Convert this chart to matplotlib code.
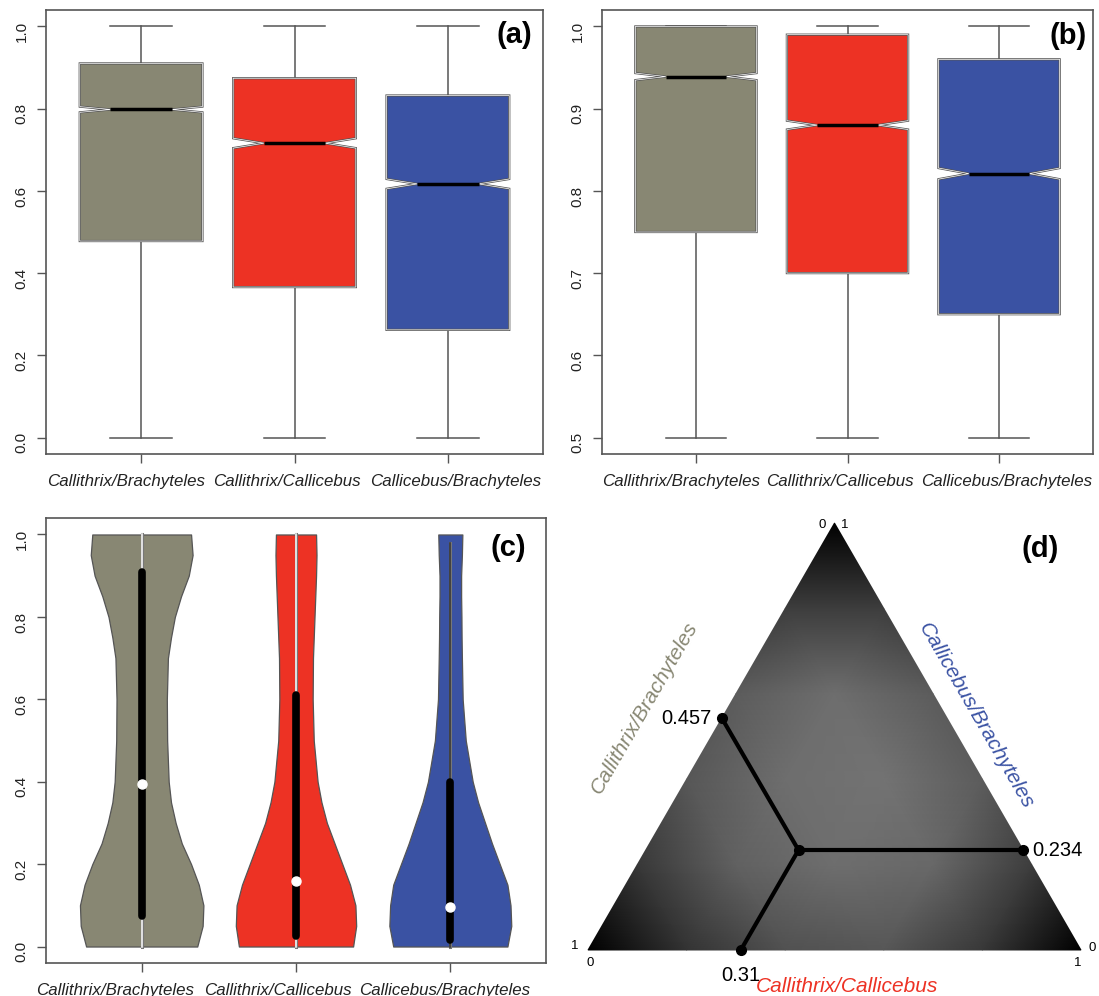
import matplotlib
matplotlib.use("Agg")
import matplotlib.pyplot as plt
import matplotlib.patches as mpatches
import matplotlib.tri as mtri
import numpy as np

plt.rcParams['font.family'] = ['Liberation Sans', 'DejaVu Sans']

# ---- data ----
pairs = ['Callithrix/Brachyteles', 'Callithrix/Callicebus', 'Callicebus/Brachyteles']
pair_colors = ['#888773', '#ED3224', '#3A52A3']

# (a) notched boxes
a_lo = [0.0, 0.0, 0.0]
a_q1 = [0.478, 0.366, 0.262]
a_med = [0.798, 0.716, 0.617]
a_q3 = [0.910, 0.874, 0.832]
a_hi = [1.0, 1.0, 1.0]
a_notch = [0.007, 0.012, 0.012]

# (b) notched boxes
b_lo = [0.5, 0.5, 0.5]
b_q1 = [0.75, 0.70, 0.65]
b_med = [0.939, 0.880, 0.821]
b_q3 = [1.0, 0.99, 0.96]
b_hi = [1.0, 1.0, 1.0]
b_notch = [0.0043, 0.0054, 0.0068]

# (c) violins: half widths at these levels
violin_y = [0.0, 0.05, 0.1, 0.15, 0.2, 0.25, 0.3, 0.35, 0.4, 0.5,
            0.6, 0.7, 0.75, 0.8, 0.85, 0.9, 0.95, 1.0]
violin_gray = [0.36, 0.395, 0.40, 0.37, 0.32, 0.26, 0.22, 0.19, 0.175, 0.165,
               0.163, 0.17, 0.19, 0.215, 0.255, 0.305, 0.33, 0.32]
violin_red = [0.37, 0.39, 0.385, 0.35, 0.30, 0.25, 0.20, 0.165, 0.14, 0.115,
              0.108, 0.11, 0.115, 0.12, 0.125, 0.13, 0.133, 0.13]
violin_blue = [0.37, 0.395, 0.39, 0.37, 0.32, 0.27, 0.225, 0.18, 0.145, 0.10,
               0.08, 0.075, 0.073, 0.072, 0.07, 0.07, 0.075, 0.078]
c_q1 = [0.075, 0.025, 0.015]
c_med = [0.395, 0.16, 0.095]
c_q3 = [0.91, 0.61, 0.40]
c_lo = [0.0, 0.0, 0.0]
c_hi = [1.0, 1.0, 0.98]

# where the category names sit under each panel (x in category units)
label_x_ab = [0.90, 1.95, 3.05]
label_x_c = [0.83, 1.88, 2.96]

# (d) ternary: mean position and point density (ink share) on a 0.2 lattice,
# rows go up from the base (top-vertex weight 0, 0.2, ... 1)
tern_point = [0.457, 0.31, 0.234]
tern_step = 0.2
tern_ink = [
    [1.00, 0.80, 0.68, 0.66, 0.78, 1.00],
    [0.78, 0.62, 0.57, 0.59, 0.76],
    [0.66, 0.57, 0.55, 0.64],
    [0.64, 0.57, 0.64],
    [0.76, 0.76],
    [1.00],
]

W, H = 1099, 996
fig = plt.figure(figsize=(W / 100, H / 100), dpi=100)


def fpos(x0, y0, x1, y1):
    return [x0 / W, 1 - y1 / H, (x1 - x0) / W, (y1 - y0) / H]


def style_axes(ax, yticks, ylim, label_x):
    ax.set_xlim(0.38, 3.62)
    ax.set_ylim(*ylim)
    for s in ax.spines.values():
        s.set_color('#555555')
        s.set_linewidth(1.2)
    ax.set_yticks(yticks, ['%.1f' % v for v in yticks])
    ax.tick_params(axis='y', length=6.5, width=1, color='#555555', labelsize=11,
                   labelcolor='#222222', pad=6, labelrotation=90)
    ax.tick_params(axis='x', length=6.5, width=1, color='#555555')
    ax.set_xticks([1, 2, 3], ['', '', ''])
    trans = ax.get_xaxis_transform()
    for lx, name in zip(label_x, pairs):
        ax.text(lx, -0.062, name, transform=trans, ha='center', va='center',
                fontstyle='italic', fontsize=12.2, color='#222222', clip_on=False)


def notched(ax, lo, q1, med, q3, hi, notch):
    stats = []
    for i in range(3):
        stats.append(dict(whislo=lo[i], q1=q1[i], med=med[i], q3=q3[i], whishi=hi[i],
                          cilo=med[i] - notch[i], cihi=med[i] + notch[i], fliers=[]))
    bp = ax.bxp(stats, positions=[1, 2, 3], widths=0.8, shownotches=True,
                patch_artist=True, showfliers=False,
                boxprops=dict(edgecolor='#555555', linewidth=1.6),
                medianprops=dict(color='black', linewidth=2.5),
                whiskerprops=dict(color='#555555', linewidth=1.1),
                capprops=dict(color='#555555', linewidth=1.1))
    for box, col in zip(bp['boxes'], pair_colors):
        box.set_facecolor(col)
        ax.add_patch(mpatches.PathPatch(box.get_path(), fill=False, edgecolor='white',
                                        linewidth=0.5, zorder=box.get_zorder() + 0.1))
    for m in bp['medians']:
        m.set_zorder(5)


# (a)
ax_a = fig.add_axes(fpos(46, 10, 543, 454))
notched(ax_a, a_lo, a_q1, a_med, a_q3, a_hi, a_notch)
style_axes(ax_a, [0.0, 0.2, 0.4, 0.6, 0.8, 1.0], (-0.04, 1.04), label_x_ab)

# (b)
ax_b = fig.add_axes(fpos(602, 10, 1093, 454))
notched(ax_b, b_lo, b_q1, b_med, b_q3, b_hi, b_notch)
style_axes(ax_b, [0.5, 0.6, 0.7, 0.8, 0.9, 1.0], (0.48, 1.02), label_x_ab)

# (c)
ax_c = fig.add_axes(fpos(46, 518, 546, 963))
vy = np.array(violin_y)
for i, (hw, col) in enumerate(zip([violin_gray, violin_red, violin_blue], pair_colors)):
    pos = i + 1
    hw = np.array(hw)
    ax_c.fill_betweenx(vy, pos - hw, pos + hw, facecolor=col, edgecolor='#555555',
                       linewidth=0.9, zorder=2)
    line_col = '#333333' if i == 2 else 'white'
    ax_c.plot([pos, pos], [c_lo[i], c_hi[i]], color='#777777', lw=2.2, zorder=3)
    ax_c.plot([pos, pos], [c_lo[i], c_hi[i]], color=line_col, lw=1.1, zorder=3)
    ax_c.plot([pos, pos], [c_q1[i], c_q3[i]], color='black', lw=5.5, zorder=4,
              solid_capstyle='round')
    ax_c.plot(pos, c_med[i], 'o', color='white', markersize=6.5, zorder=5)
style_axes(ax_c, [0.0, 0.2, 0.4, 0.6, 0.8, 1.0], (-0.04, 1.04), label_x_c)

# (d) ternary
ax_d = fig.add_axes([560 / W, 0, 539 / W, 491 / H])
ax_d.set_xlim(-0.0568, 1.0365)
ax_d.set_ylim(-0.0933, 0.9026)
ax_d.axis('off')
r3 = np.sqrt(3) / 2
tx, ty, tz = [], [], []
for row, vals in enumerate(tern_ink):
    c = row * tern_step
    for k, v in enumerate(vals):
        b = k * tern_step
        tx.append(b + c / 2)
        ty.append(c * r3)
        tz.append(v)
tri = mtri.Triangulation(tx, ty)
ax_d.tripcolor(tri, tz, shading='gouraud', cmap='gray_r', vmin=0, vmax=1, zorder=1)

A, B, C = tern_point
px, py = B + C / 2, C * r3
ends = [((1 - A) / 2, (1 - A) * r3), (1 - C / 2, C * r3), (B, 0.0)]
for ex, ey in ends:
    ax_d.plot([px, ex], [py, ey], color='black', lw=3, zorder=3, solid_capstyle='round')
    ax_d.plot(ex, ey, 'o', color='black', markersize=7, zorder=4)
ax_d.plot(px, py, 'o', color='black', markersize=7, zorder=4)

ax_d.text(ends[0][0] - 0.02, ends[0][1], '%.3f' % A, ha='right', va='center', fontsize=14.5)
ax_d.text(ends[1][0] + 0.018, ends[1][1], '%.3f' % C, ha='left', va='center', fontsize=14.5)
ax_d.text(ends[2][0], -0.052, '%.2f' % B, ha='center', va='center', fontsize=14.5)

ax_d.text(0.475, 0.862, '0', ha='center', va='center', fontsize=9.5)
ax_d.text(0.521, 0.862, '1', ha='center', va='center', fontsize=9.5)
ax_d.text(-0.026, 0.008, '1', ha='center', va='center', fontsize=9.5)
ax_d.text(0.004, -0.026, '0', ha='center', va='center', fontsize=9.5)
ax_d.text(1.022, 0.004, '0', ha='center', va='center', fontsize=9.5)
ax_d.text(0.994, -0.026, '1', ha='center', va='center', fontsize=9.5)

ax_d.text(0.1136, 0.491, pairs[0], rotation=60, ha='center', va='center',
          fontsize=15, fontstyle='italic', color=pair_colors[0], rotation_mode='anchor')
ax_d.text(0.787, 0.475, pairs[2], rotation=-60, ha='center', va='center',
          fontsize=15, fontstyle='italic', color=pair_colors[2], rotation_mode='anchor')
ax_d.text(0.525, -0.075, pairs[1], ha='center', va='center',
          fontsize=15, fontstyle='italic', color=pair_colors[1])

# panel letters
for lab, x, y in [('(a)', 514, 35), ('(b)', 1068, 36), ('(c)', 508, 548), ('(d)', 1040, 549)]:
    fig.text(x / W, 1 - y / H, lab, ha='center', va='center', fontsize=21, fontweight='bold')

fig.savefig('out.png', dpi=100)
